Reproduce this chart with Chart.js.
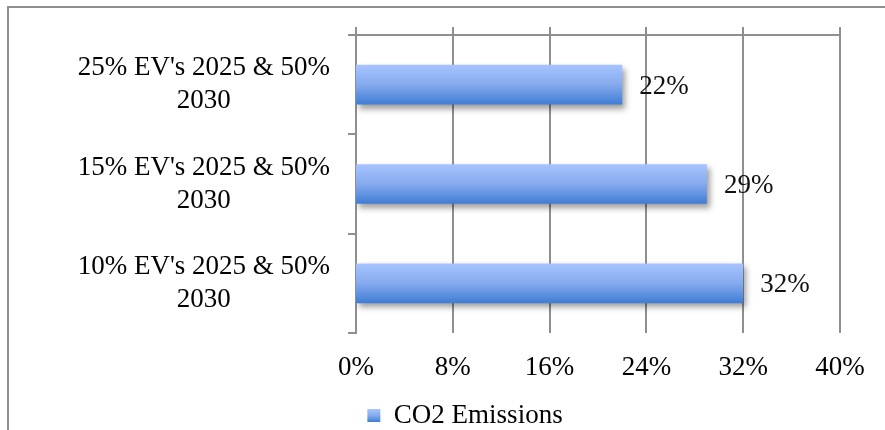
<!DOCTYPE html>
<html>
<head>
<meta charset="utf-8">
<script src="https://cdn.jsdelivr.net/npm/chart.js@4/dist/chart.umd.min.js"></script>
<style>
  html, body { margin: 0; padding: 0; background: #ffffff; }
  #wrap { position: relative; width: 885px; height: 430px; }
</style>
</head>
<body>
<div id="wrap"><canvas id="chart" width="885" height="430"></canvas></div>
<script>
// Scenario labels (top to bottom) and CO2 emission reductions in percent
const scenarios = [
  ["25% EV's 2025 & 50%", "2030"],
  ["15% EV's 2025 & 50%", "2030"],
  ["10% EV's 2025 & 50%", "2030"]
];
const co2Emissions = [22, 29, 32];
const seriesName = 'CO2 Emissions';
const axisMin = 0;
const axisMax = 40;
const axisStep = 8;

const FONT = "'Liberation Serif', 'Times New Roman', serif";
const FONT_SIZE = 27;
const GRID = '#8f8f8f';
const BAR_SHARE = 0.4;

function barGradient(ctx, top, bottom) {
  const g = ctx.createLinearGradient(0, top, 0, bottom);
  g.addColorStop(0, '#a6c5ff');
  g.addColorStop(0.5, '#86aaee');
  g.addColorStop(1, '#3e7dd4');
  return g;
}

// Outer frame lines along the top and left edge
const framePlugin = {
  id: 'frame',
  beforeDraw(chart) {
    const c = chart.ctx;
    c.save();
    c.strokeStyle = GRID;
    c.lineWidth = 2;
    c.beginPath();
    c.moveTo(8, chart.height);
    c.lineTo(8, 7);
    c.lineTo(chart.width, 7);
    c.stroke();
    c.restore();
  }
};

// Soft drop shadow under the bars
const shadowPlugin = {
  id: 'barShadow',
  beforeDatasetsDraw(chart) {
    const c = chart.ctx;
    c.save();
    c.shadowColor = 'rgba(0,0,0,0.38)';
    c.shadowBlur = 6;
    c.shadowOffsetX = 3;
    c.shadowOffsetY = 4;
  },
  afterDatasetsDraw(chart) {
    chart.ctx.restore();
  }
};

// Value labels to the right of each bar
const valueLabels = {
  id: 'valueLabels',
  afterDatasetsDraw(chart) {
    const c = chart.ctx;
    const meta = chart.getDatasetMeta(0);
    c.save();
    c.fillStyle = '#111111';
    c.font = FONT_SIZE + 'px ' + FONT;
    c.textAlign = 'left';
    c.textBaseline = 'middle';
    meta.data.forEach((bar, i) => {
      c.fillText(co2Emissions[i] + '%', bar.x + 17, bar.y + 2);
    });
    c.restore();
  }
};

// Legend placement and gradient swatch
const legendTweak = {
  id: 'legendTweak',
  afterLayout(chart) {
    const lg = chart.legend;
    if (!lg) return;
    lg.left += 45;
    lg.right += 45;
  },
  beforeDraw(chart) {
    const lg = chart.legend;
    if (!lg || !lg.legendItems || !lg.legendItems[0]) return;
    const mid = lg.top + 10 + FONT_SIZE / 2;
    lg.legendItems[0].fillStyle = barGradient(chart.ctx, mid - 6.5, mid + 6.5);
  }
};

new Chart(document.getElementById('chart'), {
  type: 'bar',
  data: {
    labels: scenarios,
    datasets: [{
      label: seriesName,
      data: co2Emissions,
      categoryPercentage: 1,
      barPercentage: BAR_SHARE,
      borderWidth: 0,
      backgroundColor(ctx) {
        const chart = ctx.chart;
        const area = chart.chartArea;
        const y = chart.scales.y;
        if (!area || !y || ctx.dataIndex === undefined) return '#6f9ae6';
        const center = y.getPixelForValue(ctx.dataIndex);
        const half = (area.height / scenarios.length) * BAR_SHARE / 2;
        return barGradient(chart.ctx, center - half, center + half);
      }
    }]
  },
  options: {
    indexAxis: 'y',
    responsive: false,
    animation: false,
    layout: { padding: { top: 27, right: 45, bottom: -9, left: 0 } },
    scales: {
      x: {
        position: 'bottom',
        min: axisMin,
        max: axisMax,
        border: { display: false },
        grid: { display: false, drawTicks: false },
        ticks: {
          stepSize: axisStep,
          padding: 19,
          color: '#000000',
          font: { family: FONT, size: FONT_SIZE },
          callback: v => v + '%'
        },
        afterFit(scale) { scale.height = 59; }
      },
      x2: {
        position: 'top',
        axis: 'x',
        min: axisMin,
        max: axisMax,
        border: { display: true, color: GRID, width: 2 },
        grid: { color: GRID, lineWidth: 2, tickLength: 8, drawTicks: true },
        ticks: { stepSize: axisStep, display: false }
      },
      y: {
        position: 'left',
        border: { display: true, color: GRID, width: 2 },
        grid: {
          offset: true,
          drawOnChartArea: false,
          drawTicks: true,
          tickLength: 8,
          color: GRID,
          lineWidth: 2
        },
        ticks: {
          crossAlign: 'center',
          padding: 18,
          color: '#000000',
          font: { family: FONT, size: FONT_SIZE, lineHeight: 1.22 }
        },
        afterFit(scale) {
          scale.width = 356;
          scale.paddingTop = 0;
          scale.paddingBottom = 0;
        }
      }
    },
    plugins: {
      legend: {
        position: 'bottom',
        labels: {
          boxWidth: 13,
          boxHeight: 13,
          padding: 10,
          color: '#000000',
          font: { family: FONT, size: FONT_SIZE }
        }
      },
      tooltip: { enabled: false }
    }
  },
  plugins: [framePlugin, shadowPlugin, valueLabels, legendTweak]
});
</script>
</body>
</html>
